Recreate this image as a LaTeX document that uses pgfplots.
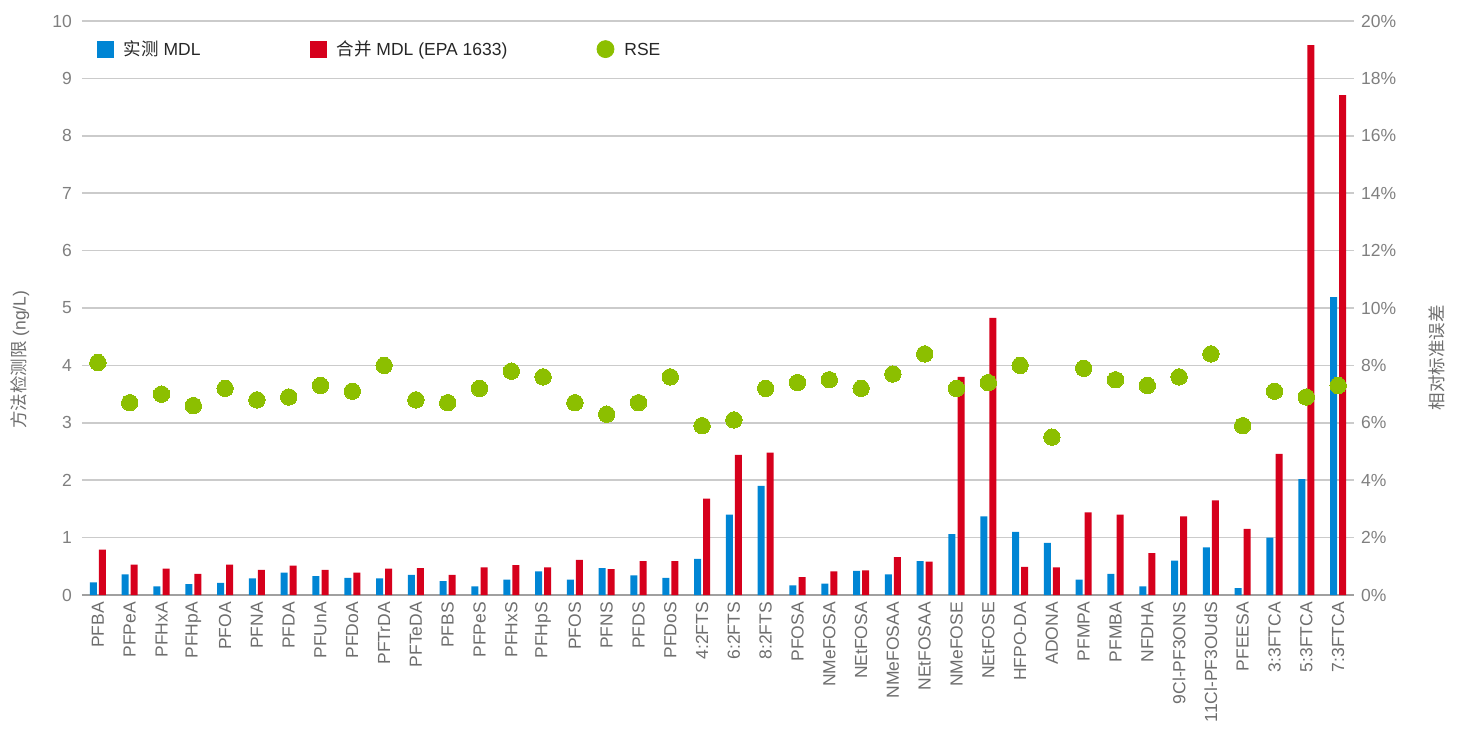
\documentclass[border=0pt]{standalone}
\usepackage{pgfplots}
\usepackage{pgfplotstable}
\pgfplotsset{compat=1.18}
\usepackage{fontspec}
\setmainfont{Liberation Sans}
\newfontfamily\cjk{Noto Sans CJK SC}
\definecolor{mdlblue}{HTML}{0085D4}
\definecolor{mdlred}{HTML}{D6001C}
\definecolor{rsegreen}{HTML}{8CBF00}
\definecolor{gridgray}{HTML}{CBCBCB}
\definecolor{basegray}{HTML}{A0A0A0}
\definecolor{tickgray}{HTML}{7F7F7F}
\definecolor{labgray}{HTML}{6E6E6E}
\definecolor{legtext}{HTML}{262626}

\pgfplotstableread{
x blue red rse
0 0.22 0.79 8.1
1 0.36 0.53 6.7
2 0.15 0.46 7.0
3 0.19 0.37 6.6
4 0.21 0.53 7.2
5 0.29 0.44 6.8
6 0.39 0.51 6.9
7 0.33 0.44 7.3
8 0.30 0.39 7.1
9 0.29 0.46 8.0
10 0.35 0.47 6.8
11 0.24 0.35 6.7
12 0.15 0.48 7.2
13 0.27 0.52 7.8
14 0.41 0.48 7.6
15 0.27 0.61 6.7
16 0.47 0.45 6.3
17 0.34 0.59 6.7
18 0.30 0.59 7.6
19 0.63 1.68 5.9
20 1.40 2.44 6.1
21 1.90 2.48 7.2
22 0.17 0.31 7.4
23 0.20 0.41 7.5
24 0.42 0.43 7.2
25 0.36 0.66 7.7
26 0.59 0.58 8.4
27 1.06 3.80 7.2
28 1.37 4.83 7.4
29 1.10 0.49 8.0
30 0.91 0.48 5.5
31 0.27 1.44 7.9
32 0.37 1.40 7.5
33 0.15 0.73 7.3
34 0.60 1.37 7.6
35 0.83 1.65 8.4
36 0.12 1.15 5.9
37 1.00 2.46 7.1
38 2.02 9.58 6.9
39 5.19 8.71 7.3
}\datatable

\begin{document}
\begin{tikzpicture}
\pgfplotsset{
  base/.style={
    width=636pt, height=287pt, scale only axis,
    xmin=-0.5, xmax=39.5,
    font=\fontsize{8.75}{10.5}\selectfont,
    /pgf/number format/assume math mode=true,
    major tick length=0pt,
    clip=false,
  }
}
\begin{axis}[base,
  ymin=0, ymax=10, ytick={0,1,...,10},
  ymajorgrids, grid style={draw=gridgray, line width=0.75pt},
  axis x line*=bottom, axis y line*=left,
  x axis line style={draw=basegray, line width=1pt},
  y axis line style={draw=none},
  xtick={0,1,...,39},
  xticklabels={PFBA,PFPeA,PFHxA,PFHpA,PFOA,PFNA,PFDA,PFUnA,PFDoA,PFTrDA,PFTeDA,PFBS,PFPeS,PFHxS,PFHpS,PFOS,PFNS,PFDS,PFDoS,4:2FTS,6:2FTS,8:2FTS,PFOSA,NMeFOSA,NEtFOSA,NMeFOSAA,NEtFOSAA,NMeFOSE,NEtFOSE,HFPO-DA,ADONA,PFMPA,PFMBA,NFDHA,9Cl-PF3ONS,11Cl-PF3OUdS,PFEESA,3:3FTCA,5:3FTCA,7:3FTCA},
  xticklabel style={rotate=90, anchor=east, text=labgray},
  yticklabel style={text=tickgray, xshift=-1.5pt},
  ylabel={{\cjk 方法检测限} (ng/L)},
  ylabel style={at={(axis description cs:-0.0487,0.41)}, anchor=center, text=labgray},
]
\addplot[ybar, bar width=0.22, bar shift=-0.142, fill=mdlblue, draw=none] table[x=x,y=blue]{\datatable};
\addplot[ybar, bar width=0.22, bar shift=0.142, fill=mdlred, draw=none] table[x=x,y=red]{\datatable};
\end{axis}
\begin{axis}[base,
  ymin=0, ymax=20, ytick={0,2,...,20},
  yticklabel={\pgfmathprintnumber{\tick}\%},
  axis y line*=right, y axis line style={draw=none},
  axis x line=none,
  yticklabel style={text=tickgray},
  ylabel={{\cjk 相对标准误差}},
  ylabel style={at={(axis description cs:1.0652,0.413)}, anchor=center, text=labgray},
  legend columns=3,
  legend style={at={(axis description cs:0.0118,0.951)}, anchor=west,
    draw=none, fill=none, inner sep=0pt, outer sep=0pt,
    font=\fontsize{8.75}{10.5}\selectfont, text=legtext,
    nodes={inner xsep=0pt},
    /tikz/every odd column/.append style={column sep=5pt}},
]
\addlegendimage{legend image code/.code={\fill[mdlblue] (0pt,-4pt) rectangle (8pt,4pt);}}
\addlegendentry{\makebox[93pt][l]{{\cjk 实测} MDL}}
\addlegendimage{legend image code/.code={\fill[mdlred] (0pt,-4pt) rectangle (8pt,4pt);}}
\addlegendentry{\makebox[130pt][l]{{\cjk 合并} MDL (EPA 1633)}}
\addplot[color=rsegreen, only marks, mark=*, mark size=4.1pt, mark options={fill=rsegreen, draw=rsegreen, line width=0pt},
  legend image code/.code={\fill[rsegreen] (4.25pt,0pt) circle (4.25pt);}]
  table[x=x,y=rse]{\datatable};
\addlegendentry{{\cjk\vphantom{合}}RSE}
\end{axis}
\pgfresetboundingbox
\path ([shift={(-41pt,-67.5pt)}]current axis.south west) rectangle ([shift={(53.5pt,10.5pt)}]current axis.north east);
\end{tikzpicture}
\end{document}
